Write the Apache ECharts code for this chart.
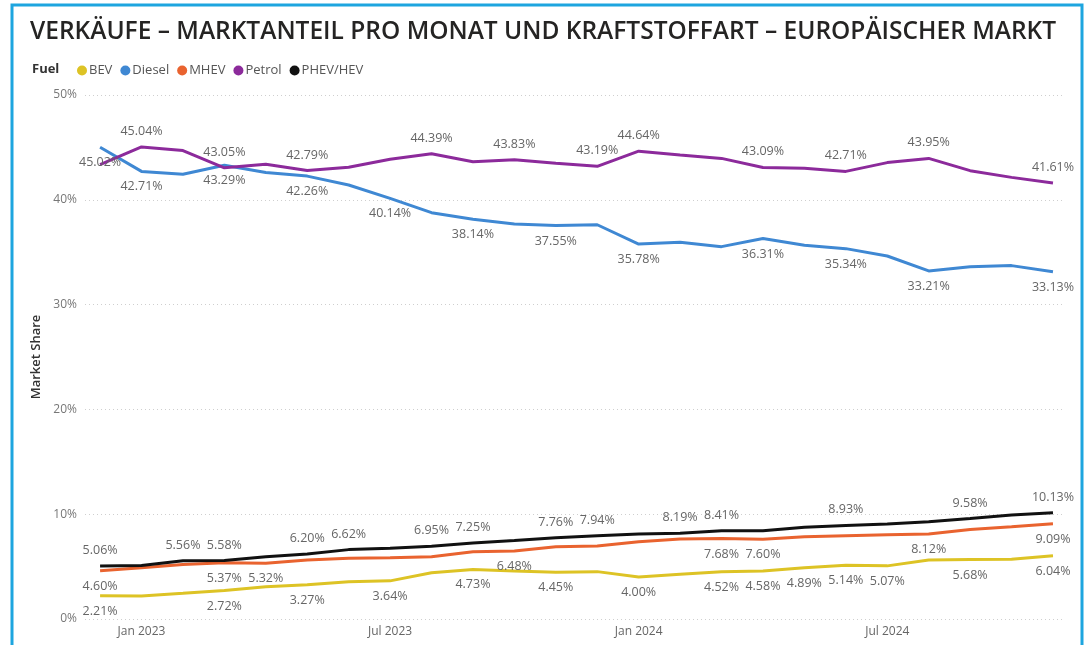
<!DOCTYPE html>
<html><head><meta charset="utf-8">
<script src="https://cdn.jsdelivr.net/npm/echarts@6/dist/echarts.min.js"></script>
<style>html,body{margin:0;padding:0;background:#fff}#c{width:1088px;height:645px}</style>
</head><body><div id="c"></div>
<script>
const months = ['Dec 2022','Jan 2023','Feb 2023','Mar 2023','Apr 2023','May 2023','Jun 2023','Jul 2023','Aug 2023','Sep 2023','Oct 2023','Nov 2023','Dec 2023','Jan 2024','Feb 2024','Mar 2024','Apr 2024','May 2024','Jun 2024','Jul 2024','Aug 2024','Sep 2024','Oct 2024','Nov 2024'];
const tickLabels = ['Jan 2023','Jul 2023','Jan 2024','Jul 2024'];
const yTicks = [0,10,20,30,40,50];

const bev    = [2.21,2.20,2.45,2.72,3.08,3.27,3.56,3.64,4.42,4.73,4.58,4.45,4.52,4.00,4.26,4.52,4.58,4.89,5.14,5.07,5.63,5.68,5.70,6.04];
const diesel = [45.02,42.71,42.43,43.29,42.60,42.26,41.41,40.14,38.77,38.14,37.69,37.55,37.62,35.78,35.94,35.53,36.31,35.66,35.34,34.64,33.21,33.62,33.72,33.13];
const mhev   = [4.60,4.90,5.20,5.37,5.32,5.63,5.79,5.85,5.95,6.42,6.48,6.90,6.97,7.38,7.63,7.68,7.60,7.85,7.95,8.05,8.12,8.55,8.81,9.09];
const petrol = [43.35,45.04,44.70,43.05,43.40,42.79,43.10,43.86,44.39,43.64,43.83,43.48,43.19,44.64,44.27,43.95,43.09,43.00,42.71,43.55,43.95,42.78,42.14,41.61];
const phev   = [5.06,5.10,5.56,5.58,5.95,6.20,6.62,6.74,6.95,7.25,7.50,7.76,7.94,8.10,8.19,8.41,8.43,8.75,8.93,9.06,9.29,9.58,9.92,10.13];

const bevLabels    = [0,3,5,7,9,11,13,15,16,17,18,19,21,23];
const dieselLabels = [0,1,3,5,7,9,11,13,16,18,20,23];
const mhevLabels   = [0,3,4,10,15,16,20,23];
const petrolLabels = [1,3,5,8,10,12,13,16,18,20,23];
const phevLabels   = [0,2,3,5,6,8,9,11,12,14,15,18,21,23];

const FONT = '"Open Sans", "Noto Sans", sans-serif';
function mk(name, vals, labels, color, pos) {
  return {
    name, type: 'line', symbol: 'circle', symbolSize: 0.01, showSymbol: true, smooth: false,
    lineStyle: { width: 3, color }, itemStyle: { color },
    label: { show: false },
    labelLayout: { hideOverlap: false },
    data: vals.map((v, i) => ({
      value: [i, v],
      label: labels.includes(i) ? {
        show: true, position: pos, distance: 9,
        formatter: v.toFixed(2) + '%', color: '#666', fontSize: 12.5, fontFamily: FONT
      } : { show: false }
    }))
  };
}

const chart = echarts.init(document.getElementById('c'));
chart.setOption({
  animation: false,
  backgroundColor: '#fff',
  graphic: [{
    type: 'rect', shape: { x: 12, y: 5, width: 1070, height: 660 },
    style: { fill: 'none', stroke: '#1DA5DF', lineWidth: 3 }, silent: true
  }],
  title: [{
    text: 'VERKÄUFE – MARKTANTEIL PRO MONAT UND KRAFTSTOFFART – EUROPÄISCHER MARKT',
    left: 25, top: 15,
    textStyle: { fontFamily: FONT, fontWeight: 600, fontSize: 24.5, color: '#252423' }
  }, {
    text: 'Fuel', left: 27, top: 58,
    textStyle: { fontFamily: FONT, fontWeight: 700, fontSize: 13, color: '#333' }
  }],
  legend: {
    left: 72, top: 59, icon: 'circle', itemWidth: 10, itemHeight: 10, itemGap: 8,
    textStyle: { fontFamily: FONT, fontSize: 13, color: '#555', padding: [0,0,0,-3] },
    data: ['BEV','Diesel','MHEV','Petrol','PHEV/HEV']
  },
  grid: { left: 85, right: 23, top: 95, bottom: 26, containLabel: false },
  xAxis: {
    type: 'value', min: -0.364, max: 23.29,
    axisLine: { show: false }, axisTick: { show: false }, splitLine: { show: false },
    axisLabel: {
      customValues: tickLabels.map(t => months.indexOf(t)),
      formatter: v => months[Math.round(v)],
      color: '#666', fontSize: 12, fontFamily: FONT, margin: 7
    }
  },
  yAxis: {
    type: 'value', min: yTicks[0], max: yTicks[yTicks.length-1], interval: 10,
    name: 'Market Share', nameLocation: 'middle', nameGap: 40, nameRotate: 90,
    nameTextStyle: { fontFamily: FONT, fontSize: 13, fontWeight: 600, color: '#333' },
    axisLine: { show: false }, axisTick: { show: false },
    axisLabel: { formatter: '{value}%', color: '#777', fontSize: 12, fontFamily: FONT, margin: 8 },
    splitLine: { lineStyle: { type: [1,3], color: '#cfcfcf', width: 1 } }
  },
  series: [
    mk('BEV', bev, bevLabels, '#DDC325', 'bottom'),
    mk('Diesel', diesel, dieselLabels, '#3F88D3', 'bottom'),
    mk('MHEV', mhev, mhevLabels, '#E9632F', 'bottom'),
    mk('Petrol', petrol, petrolLabels, '#8C2A9B', 'top'),
    mk('PHEV/HEV', phev, phevLabels, '#111111', 'top')
  ]
});
</script></body></html>
